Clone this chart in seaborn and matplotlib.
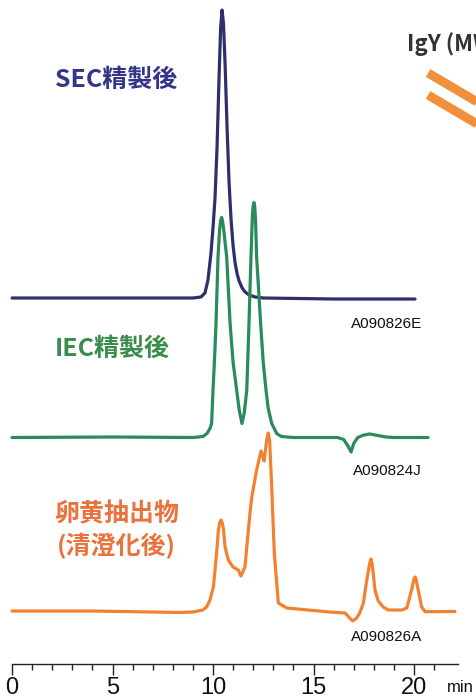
import numpy as np
import pandas as pd
import matplotlib
matplotlib.use("Agg")
import matplotlib.pyplot as plt
import seaborn as sns

# ---- chromatogram data: retention time (min) and detector signal (a.u.) ----
sec_time = [0.0, 5.0, 9.0, 9.4, 9.6, 9.75, 9.9, 10.0, 10.1, 10.2, 10.3, 10.38,
            10.45, 10.52, 10.6, 10.7, 10.8, 10.9, 11.0, 11.1, 11.2, 11.3, 11.45,
            11.6, 11.8, 12.1, 12.5, 16.0, 20.05]
sec_signal = [0, 0, 0, 1, 5, 18, 45, 70, 100, 150, 220, 270,
              288, 275, 235, 170, 115, 78, 52, 35, 24, 17, 10,
              6, 3, 1, 0, -1, -1]

iec_time = [0.0, 5.0, 9.0, 9.5, 9.7, 9.85, 9.93, 10.0, 10.08, 10.15, 10.25,
            10.33, 10.38, 10.43, 10.48, 10.55, 10.6, 10.68, 10.85, 11.0, 11.18,
            11.3, 11.44, 11.55, 11.68, 11.79, 11.89, 11.96, 12.0, 12.04, 12.08,
            12.12, 12.17, 12.37, 12.5, 12.64, 12.74, 12.92, 13.17, 13.4, 14.0,
            16.2, 16.5, 16.7, 16.87, 17.0, 17.2, 17.5, 17.8, 18.2, 18.6, 19.0,
            20.7]
iec_signal = [0, 0.5, 0, 1, 4, 9, 14, 47, 80, 114, 181,
              208, 217, 220, 216, 205, 195, 181, 114, 75, 47,
              28, 14, 24, 47, 114, 181, 222, 232, 235, 230,
              215, 181, 114, 75, 47, 30, 14, 4, 1, 0,
              0, -2, -8, -14.5, -6, 0, 2.5, 3.5, 2, 0.5, 0,
              0]

yolk_time = [0.0, 4.0, 8.4, 9.0, 9.5, 9.68, 9.85, 10.02, 10.18, 10.27, 10.34,
             10.4, 10.46, 10.52, 10.6, 10.76, 11.0, 11.26, 11.39, 11.59, 11.76,
             11.84, 11.93, 12.17, 12.39, 12.46, 12.54, 12.68, 12.75, 12.82, 12.92,
             13.05, 13.25, 13.67, 15.8, 16.57, 16.8, 16.95, 17.15, 17.3, 17.48,
             17.65, 17.8, 17.86, 17.92, 18.06, 18.22, 18.47, 18.72, 19.4, 19.64,
             19.88, 20.0, 20.05, 20.1, 20.21, 20.38, 20.55, 22.04]
yolk_signal = [0, 0, -1.5, -1, 1, 4, 11, 24, 58, 81, 89,
               91, 88, 82, 64, 51, 44, 41, 35, 44, 81,
               98, 114, 141, 160, 156, 150, 172, 178, 170, 124,
               58, 8, 3, -1, -2, -7, -10, -7, -2, 8,
               31, 48, 52, 47, 21, 10, 4, 1, 1, 3,
               21, 32, 34, 32, 21, 4, -0.7, -0.5]

trace_names = ["SEC精製後", "IEC精製後", "卵黄抽出物\n(清澄化後)"]
sample_ids = ["A090826E", "A090824J", "A090826A"]
time_ticks = [0, 5, 10, 15, 20]

# ---- styling ----
line_colors = ["#2e2f6b", "#2a8a5a", "#f28232"]
text_colors = ["#33348a", "#3a8c4a", "#ea723c"]
baselines = [399, 259.5, 86]          # vertical stacking of the traces

frames = []
for name, t, s, base in zip(trace_names, [sec_time, iec_time, yolk_time],
                            [sec_signal, iec_signal, yolk_signal], baselines):
    frames.append(pd.DataFrame({"time": t, "signal": s, "trace": name,
                                "stacked": np.asarray(s, float) + base}))
df = pd.concat(frames, ignore_index=True)

sns.set_theme(style="white")
plt.rcParams["font.family"] = ["Liberation Sans", "DejaVu Sans"]

W, H = 477, 697
fig = plt.figure(figsize=(W / 100, H / 100), dpi=100)
ax = fig.add_axes([0, 0, 1, 1])
px_per_min = 20.1
x0 = 12
ax.set_xlim(-x0 / px_per_min, (W - x0) / px_per_min)
ax.set_ylim(0, H)

sns.lineplot(data=df, x="time", y="stacked", hue="trace", palette=line_colors,
             hue_order=trace_names, sort=False, estimator=None, legend=False,
             linewidth=2.3, ax=ax, solid_joinstyle="round", solid_capstyle="round")

# time axis
for side in ["left", "right", "top"]:
    ax.spines[side].set_visible(False)
ax.spines["bottom"].set_position(("data", 33))
ax.spines["bottom"].set_bounds(0, 22.2)
ax.spines["bottom"].set_color("#222222")
ax.spines["bottom"].set_linewidth(1.0)
ax.set_xticks(time_ticks)
ax.set_xticks(np.arange(0, 22, 1), minor=True)
ax.set_xticklabels([str(v) for v in time_ticks], fontsize=17, color="#111111")
ax.tick_params(axis="x", which="major", direction="out", length=8, width=1.0,
               color="#222222", pad=1, bottom=True)
ax.tick_params(axis="x", which="minor", direction="out", length=4.5, width=1.0,
               color="#222222", bottom=True)
ax.set_yticks([])
ax.set_xlabel("")
ax.set_ylabel("")
ax.text(22.29, 10, "min", fontsize=12, color="#111111", ha="center", va="center",
        transform=ax.transData)

# trace labels
jp_font = ["Noto Sans CJK JP", "DejaVu Sans"]
label_pos = [(2.15, 617), (2.15, 348), (5.2, 166)]
for name, (lx, ly), c in zip(trace_names, label_pos, text_colors):
    ha = "center" if "\n" in name else "left"
    ax.text(lx, ly, name, color=c, fontsize=18, fontweight="bold",
            family=jp_font, ha=ha, va="center", linespacing=1.3)

# sample identifiers
for sid, ly in zip(sample_ids, [373, 226, 60]):
    ax.text(18.65, ly, sid, fontsize=11, color="#111111", ha="center", va="center")

# molecular-weight annotation at upper right
ax.text(19.65, 653, "IgY (MW", fontsize=16, fontweight="bold", color="#333333",
        family=jp_font, ha="left", va="center", clip_on=False)
for dy in [0, 22]:
    ax.plot([20.7, 23.4], [624 - dy, 592 - dy], color="#f0903a", linewidth=6.5,
            solid_capstyle="butt")

fig.savefig("out.png", dpi=100)
